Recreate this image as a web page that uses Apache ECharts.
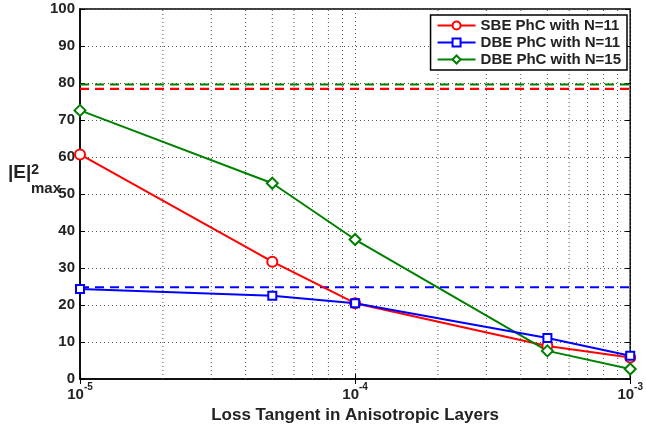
<!DOCTYPE html>
<html><head><meta charset="utf-8">
<script src="https://cdn.jsdelivr.net/npm/echarts@6/dist/echarts.min.js"></script>
<style>html,body{margin:0;padding:0;background:#fff}#c{width:646px;height:431px}</style>
</head><body><div id="c"></div>
<script>
const lossTangent = [1e-5, 5e-5, 1e-4, 5e-4, 1e-3];
const sbeN11 = [60.7, 31.7, 20.5, 8.9, 5.8];
const dbeN11 = [24.3, 22.5, 20.5, 11.1, 6.3];
const dbeN15 = [72.6, 52.9, 37.7, 7.6, 2.7];
const sbeN11Ref = 78.4;
const dbeN11Ref = 24.8;
const dbeN15Ref = 79.6;
const xRange = [1e-5, 1e-3];
const yRange = [0, 100];
const minorX = [2e-5,3e-5,4e-5,5e-5,6e-5,7e-5,8e-5,9e-5,2e-4,3e-4,4e-4,5e-4,6e-4,7e-4,8e-4,9e-4];
const names = ['SBE PhC with N=11','DBE PhC with N=11','DBE PhC with N=15'];
const colors = ['#ff0000','#0000ff','#008000'];

const FONT = '"Liberation Sans", Arial, sans-serif';
const chart = echarts.init(document.getElementById('c'), null, {renderer:'canvas'});

function pairs(xs, ys){ return xs.map((x,i)=>[x, ys[i]]); }
function refLine(v){ return [[xRange[0], v],[xRange[1], v]]; }

const grid = {left:80, right:12, top:9, bottom:52, show:true, borderColor:'#000', borderWidth:1.5, backgroundColor:'#fff'};
const dotted = {color:'#555', type:[1,3], width:1};

const mainSeries = [sbeN11, dbeN11, dbeN15].map((d,i)=>({
  name: names[i], type:'line', data: pairs(lossTangent, d),
  symbol: ['emptyCircle','emptyRect','emptyDiamond'][i],
  symbolSize: [10,8,11][i],
  lineStyle:{color:colors[i], width:2},
  itemStyle:{color:colors[i], borderWidth:2, borderColor:colors[i]},
  z: 5 + (i===1?1:0), animation:false
}));
const refSeries = [sbeN11Ref, dbeN11Ref, dbeN15Ref].map((v,i)=>({
  name: 'ref'+i, type:'line', data: refLine(v), symbol:'none',
  lineStyle:{color:colors[i], width:2.2, type:[9,6]}, z:4, animation:false
}));
const minorData = [];
minorX.forEach(x => { minorData.push([x, yRange[0]], [x, yRange[1]], [x, '-']); });
const minorSeries = {
  name:'minor', type:'line', data: minorData, symbol:'none', silent:true, connectNulls:false,
  lineStyle: dotted, z:1, animation:false
};

const xLabelRich = {
  b:{fontFamily:FONT, fontSize:15, fontWeight:'bold', color:'#222', verticalAlign:'bottom', lineHeight:20, padding:[7,0,0,0]},
  s:{fontFamily:FONT, fontSize:10, fontWeight:'bold', color:'#222', verticalAlign:'top', lineHeight:20}
};

chart.setOption({
  backgroundColor:'#fff',
  animation:false,
  grid: grid,
  legend:{
    data: names, right:19, top:15, orient:'vertical', itemGap:2, itemWidth:38, itemHeight:10,
    backgroundColor:'#fff', borderColor:'#000', borderWidth:1.5, padding:[3,6,3,6],
    textStyle:{fontFamily:FONT, fontSize:15, fontWeight:'bold', color:'#222'}
  },
  xAxis:[{
    type:'log', logBase:10, min:xRange[0], max:xRange[1],
    axisLine:{lineStyle:{color:'#000', width:1.5}},
    axisTick:{inside:true, length:5, lineStyle:{color:'#000'}},
    splitLine:{show:true, lineStyle:dotted},
    axisLabel:{margin:3, formatter: v => '{b|10}{s|' + Math.round(Math.log10(v)) + '}', rich:xLabelRich},
    name:'Loss Tangent in Anisotropic Layers', nameLocation:'middle', nameGap:28,
    nameTextStyle:{fontFamily:FONT, fontSize:17, fontWeight:'bold', color:'#222'}
  },{
    type:'log', logBase:10, min:xRange[0], max:xRange[1], position:'top',
    axisLine:{show:false}, axisTick:{inside:true, length:5, lineStyle:{color:'#000'}},
    axisLabel:{show:false}, splitLine:{show:false}
  }],
  yAxis:[{
    type:'value', min:yRange[0], max:yRange[1], interval:10,
    axisLine:{lineStyle:{color:'#000', width:1.5}},
    axisTick:{inside:true, length:5, lineStyle:{color:'#000'}},
    splitLine:{show:true, lineStyle:dotted},
    axisLabel:{margin:5, fontFamily:FONT, fontSize:15, fontWeight:'bold', color:'#222'}
  },{
    type:'value', min:yRange[0], max:yRange[1], interval:10, position:'right',
    axisLine:{show:false}, axisTick:{inside:true, length:5, lineStyle:{color:'#000'}},
    axisLabel:{show:false}, splitLine:{show:false}
  }],
  graphic:[{
    type:'text', left:8, top:163,
    style:{
      text:'{e||E|}{p|2}\n{sp| }{m|max}',
      rich:{
        e:{fontFamily:FONT, fontSize:19, fontWeight:'bold', fill:'#222', lineHeight:20},
        p:{fontFamily:FONT, fontSize:14, fontWeight:'bold', fill:'#222', verticalAlign:'top', lineHeight:20},
        sp:{width:23, fontSize:12, lineHeight:12},
        m:{fontFamily:FONT, fontSize:15, fontWeight:'bold', fill:'#222', lineHeight:12}
      }
    }
  }],
  series: [minorSeries, ...refSeries, ...mainSeries]
});
</script></body></html>
